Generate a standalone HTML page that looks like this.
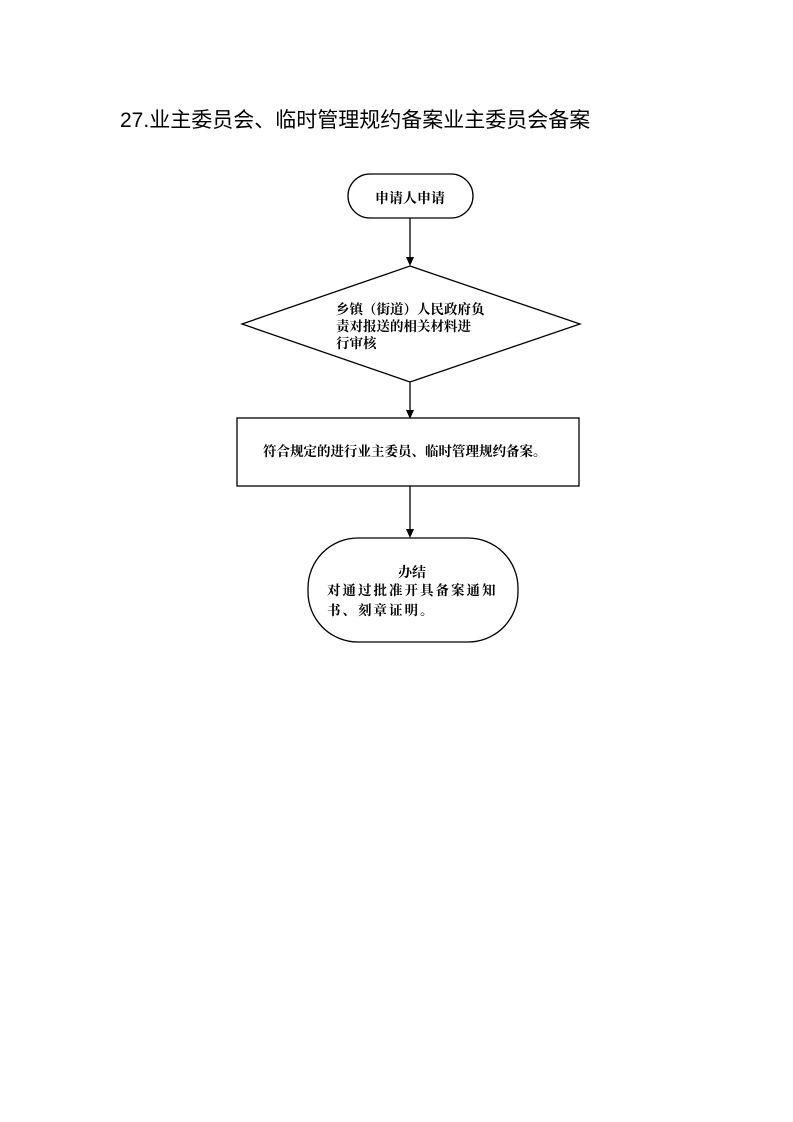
<!DOCTYPE html>
<html><head><meta charset="utf-8"><style>
body{margin:0;width:793px;height:1122px;background:#fff;position:relative;font-family:"Liberation Serif","Noto Serif CJK SC",serif;}
.t{position:absolute;color:#000;white-space:nowrap;font-weight:bold}
</style></head><body>
<div class="t" style="left:120px;top:104px;font-size:21px;font-weight:normal;font-family:'Liberation Sans','Noto Sans CJK SC',sans-serif;">27.业主委员会、临时管理规约备案业主委员会备案</div>
<svg width="793" height="1122" style="position:absolute;left:0;top:0">
<rect x="348" y="174" width="125" height="44" rx="22" fill="none" stroke="#000" stroke-width="1.3"/>
<line x1="410" y1="218" x2="410" y2="258" stroke="#000" stroke-width="1.3"/>
<path d="M406,257 L414,257 L410,266 Z" fill="#000"/>
<path d="M410,266 L580,324 L410,382 L242,324 Z" fill="none" stroke="#000" stroke-width="1.3"/>
<line x1="410" y1="382" x2="410" y2="412" stroke="#000" stroke-width="1.3"/>
<path d="M406,410 L414,410 L410,419 Z" fill="#000"/>
<rect x="237" y="418" width="342" height="68" fill="none" stroke="#000" stroke-width="1.3"/>
<line x1="410" y1="486" x2="410" y2="530" stroke="#000" stroke-width="1.3"/>
<path d="M406,529 L414,529 L410,538 Z" fill="#000"/>
<rect x="308" y="538" width="210" height="104" rx="50" fill="none" stroke="#000" stroke-width="1.3"/>
</svg>
<div class="t" style="left:375px;top:188px;font-size:14px;">申请人申请</div>
<div class="t" style="left:336px;top:301px;font-size:13.5px;line-height:17px;">乡镇（街道）人民政府负<br>责对报送的相关材料进<br>行审核</div>
<div class="t" style="left:263px;top:440px;font-size:13.5px;">符合规定的进行业主委员、临时管理规约备案。</div>
<div class="t" style="left:398px;top:562px;font-size:14px;">办结</div>
<div class="t" style="left:327px;top:581px;font-size:13.5px;line-height:20px;letter-spacing:2px;">对通过批准开具备案通知<br>书、刻章证明。</div>
</body></html>
